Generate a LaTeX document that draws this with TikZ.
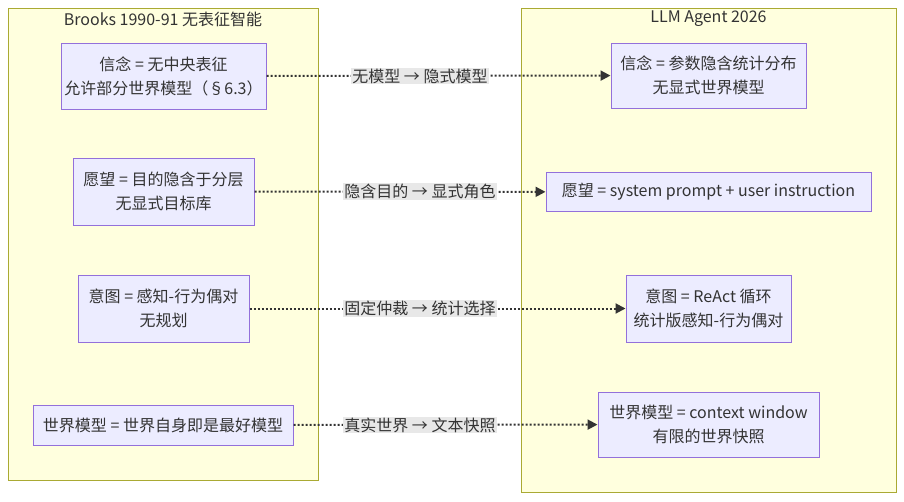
\documentclass[tikz,border=0pt]{standalone}
\usepackage{fontspec}
\setmainfont{Noto Sans CJK SC}
\usetikzlibrary{positioning,arrows.meta}
\usepackage{xcolor}
\definecolor{clusterfill}{HTML}{FFFFDE}
\definecolor{clusterline}{HTML}{AAAA33}
\definecolor{nodefill}{HTML}{ECECFF}
\definecolor{nodeline}{HTML}{9370DB}
\definecolor{ink}{HTML}{333333}
\definecolor{labelfill}{HTML}{E8E8E8}

\begin{document}
\begin{tikzpicture}[x=1pt,y=-1pt,
    every node/.style={font=\fontsize{16}{24}\selectfont, text=ink},
    cluster/.style={draw=clusterline, fill=clusterfill, line width=1pt},
    concept/.style={draw=nodeline, fill=nodefill, line width=1pt, align=center, inner sep=0pt},
    link/.style={ink, line width=2pt, dash pattern=on 2pt off 2pt, -{Triangle[length=10pt,width=10pt]}},
    linklabel/.style={fill=labelfill, inner sep=1pt}]
        \useasboundingbox (0,0) rectangle (904,501);

        % the two columns
        \draw[cluster] (8,8) rectangle (318,480);
        \draw[cluster] (521,8) rectangle (896,492);
        \node (brooks) at (163,19) {Brooks 1990-91 无表征智能};
        \node (llm) at (708.5,19) {LLM Agent 2026};

        % Brooks side
        \node[concept, minimum width=205pt, minimum height=66pt] (b1) at (163.5,76) {信念 = 无中央表征\\允许部分世界模型（§6.3）};
        \node[concept, minimum width=181pt, minimum height=67pt] (d1) at (163.5,191.5) {愿望 = 目的隐含于分层\\无显式目标库};
        \node[concept, minimum width=171pt, minimum height=67pt] (i1) at (163.5,308.5) {意图 = 感知-行为偶对\\无规划};
        \node[concept, minimum width=260pt, minimum height=40pt] (w1) at (163,425) {世界模型 = 世界自身即是最好模型};

        % LLM agent side
        \node[concept, minimum width=195pt, minimum height=65pt] (b2) at (708.5,75.5) {信念 = 参数隐含统计分布\\无显式世界模型};
        \node[concept, minimum width=325pt, minimum height=39pt] (d2) at (708.5,192) {愿望 = system prompt + user instruction};
        \node[concept, minimum width=165pt, minimum height=67pt] (i2) at (708.5,308.5) {意图 = ReAct 循环\\统计版感知-行为偶对};
        \node[concept, minimum width=221pt, minimum height=65pt] (w2) at (708.5,424.5) {世界模型 = context window\\有限的世界快照};

        % dotted links, labels sit on one column
        \coordinate (mid) at (420,0);
        \foreach \a/\b/\t in {b1/b2/{无模型 → 隐式模型}, d1/d2/{隐含目的 → 显式角色}, i1/i2/{固定仲裁 → 统计选择}, w1/w2/{真实世界 → 文本快照}} {
            \draw[link] (\a) -- (\b);
            \node[linklabel] (lbl-\a) at (\a.east -| mid) {\t};
        }
    \end{tikzpicture}
\end{document}
